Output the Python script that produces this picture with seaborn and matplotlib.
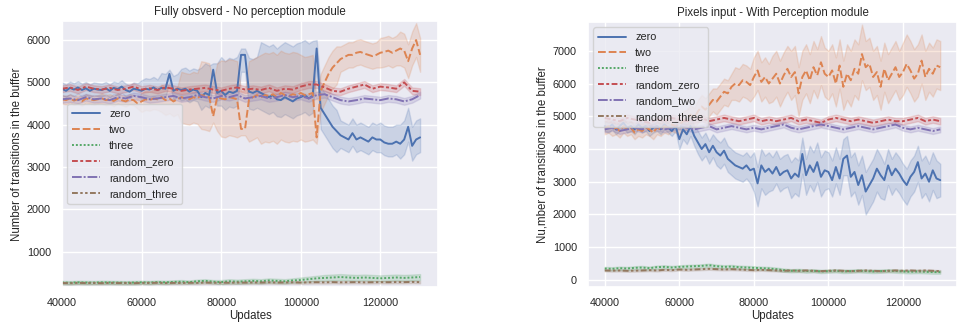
import numpy as np
import pandas as pd
import seaborn as sns
import matplotlib
matplotlib.use("Agg")
import matplotlib.pyplot as plt

series_names = ["zero", "two", "three", "random_zero", "random_two", "random_three"]

x_fine = list(range(40000, 130001, 1000))
x_coarse = list(range(40000, 130001, 2000))

# ---------------- Left panel: Fully observed ----------------
left_zero = [4850, 4800, 4870, 4830, 4880, 4820, 4860, 4800, 4850, 4830,
             4820, 4860, 4800, 4870, 4840, 4900, 4820, 4780, 4850, 4830,
             4800, 4850, 4830, 4880, 4820, 4870, 4850, 5200, 4800, 4850,
             4820, 4850, 4780, 4830, 4800, 4650, 4750, 4700, 5300, 4750,
             4800, 4700, 4780, 4750, 4800, 5650, 5650, 4780, 4750, 4800,
             4750, 4700, 4650, 4700, 4600, 4580, 4650, 4600, 4550, 4620,
             4650, 4700, 4620, 4680, 5800, 4400, 4250, 4100, 3950, 3850,
             3750, 3700, 3650, 3800, 3650, 3700, 3650, 3600, 3700, 3650,
             3650, 3580, 3550, 3550, 3600, 3550, 3650, 3950, 3500, 3650,
             3700]
left_two = [4600, 4580, 4620, 4570, 4600, 4550, 4620, 4600, 4580, 4600,
            4620, 4580, 4600, 4560, 4620, 4580, 4550, 4600, 4580, 4500,
            4550, 4600, 4580, 4620, 4600, 4650, 4580, 4620, 4550, 4600,
            4650, 4620, 4600, 4650, 4620, 4700, 4680, 4650, 4200, 4650,
            4620, 4600, 4650, 4630, 4600, 3900, 3900, 4600, 4650, 4700,
            4650, 4700, 4680, 4720, 4650, 4750, 4700, 4680, 4720, 4700,
            4750, 4700, 4720, 4750, 3700, 4800, 5000, 5200, 5350, 5450,
            5550, 5600, 5650, 5650, 5700, 5720, 5680, 5650, 5620, 5650,
            5700, 5720, 5750, 5700, 5750, 5800, 5750, 5500, 5800, 6000,
            5650]
left_random_zero = [4850, 4880, 4820, 4900, 4850, 4830, 4870, 4820, 4850, 4900,
                    4830, 4860, 4820, 4880, 4850, 4800, 4830, 4850, 4870, 4830,
                    4800, 4850, 4880, 4830, 4850, 4820, 4870, 4800, 4850, 4830,
                    4900, 4950, 4950, 4880, 4800, 4780, 4850, 4900, 4950, 4850,
                    4900, 4880, 4850, 5000, 4800, 4780]
left_random_two = [4600, 4620, 4580, 4650, 4600, 4620, 4580, 4650, 4620, 4680,
                   4650, 4600, 4620, 4650, 4680, 4620, 4650, 4700, 4650, 4620,
                   4680, 4650, 4700, 4620, 4650, 4680, 4620, 4650, 4700, 4650,
                   4680, 4620, 4700, 4720, 4650, 4580, 4550, 4580, 4620, 4600,
                   4580, 4620, 4600, 4550, 4600, 4700]
left_three = [270, 265, 275, 270, 268, 275, 272, 270, 265, 270,
              275, 270, 280, 275, 285, 290, 280, 300, 310, 290,
              280, 300, 290, 300, 310, 300, 320, 310, 300, 320,
              330, 350, 370, 380, 390, 400, 390, 380, 390, 380,
              370, 380, 390, 380, 390, 400]
left_random_three = [260, 255, 262, 258, 260, 255, 262, 258, 260, 255,
                     262, 260, 265, 258, 262, 260, 265, 262, 270, 265,
                     268, 265, 270, 268, 272, 270, 275, 270, 272, 275,
                     270, 275, 278, 275, 280, 275, 278, 280, 275, 278,
                     280, 278, 282, 280, 285, 280]

# band extent above / below the line, per 5000-update segment
left_up = {
    "zero": [150, 150, 150, 150, 250, 350, 500, 700, 800, 800, 1200, 1300, 1300, 500, 350, 350, 400, 450, 450],
    "two": [100, 100, 120, 120, 200, 300, 600, 800, 900, 900, 1000, 1000, 900, 400, 300, 300, 350, 400, 400],
    "three": [40, 40, 40, 40, 40, 40, 40, 40, 50, 50, 50, 50, 60, 70, 70, 70, 70, 70, 70],
    "random_zero": [80] * 19,
    "random_two": [80] * 19,
    "random_three": [30] * 19,
}
left_down = {
    "zero": [150, 150, 150, 150, 200, 200, 250, 300, 350, 400, 400, 400, 400, 500, 300, 300, 300, 350, 350],
    "two": [100, 100, 120, 120, 250, 350, 600, 800, 900, 1000, 1100, 1100, 1100, 500, 300, 300, 350, 400, 400],
    "three": [40, 40, 40, 40, 40, 40, 40, 40, 50, 50, 50, 50, 60, 70, 70, 70, 70, 70, 70],
    "random_zero": [80] * 19,
    "random_two": [80] * 19,
    "random_three": [30] * 19,
}
# band extent at the spike points, read separately
left_up_at = {"zero": {67000: 100, 78000: 150, 85000: 150, 86000: 150, 104000: 200}}
left_down_at = {"two": {78000: 150, 85000: 150, 86000: 150, 104000: 150}}

# ---------------- Right panel: Pixels input ----------------
right_zero = [4700, 4650, 4750, 4600, 4700, 4800, 4650, 4700, 4600, 4750,
              4650, 4700, 4550, 4650, 4700, 4600, 4750, 4650, 4550, 4700,
              4300, 4600, 4450, 4700, 4400, 4200, 4000, 4150, 3900, 4100,
              3900, 3800, 3950, 3700, 3600, 3500, 3450, 3400, 3500, 3350,
              3400, 2950, 3500, 3300, 3400, 3250, 3450, 3200, 3300, 3350,
              3100, 3250, 3150, 3850, 3200, 3500, 3300, 3600, 3150, 3350,
              3300, 3050, 3450, 3100, 3700, 3800, 3150, 3300, 2900, 3200,
              2700, 2900, 3100, 3400, 3200, 3050, 3500, 3200, 3400, 3250,
              3050, 2900, 3150, 3300, 3600, 3100, 3250, 3000, 3350, 3100,
              3050]
right_two = [4650, 4700, 4600, 4650, 4550, 4700, 4600, 4650, 4500, 4600,
             4550, 4650, 4600, 4500, 4650, 4600, 4700, 4650, 4750, 4700,
             4750, 4850, 4900, 5050, 4950, 5150, 5300, 5200, 5350, 5500,
             5450, 5600, 5750, 5700, 5900, 6000, 5950, 6100, 6050, 5950,
             6200, 6400, 6050, 6200, 6000, 6150, 6300, 6000, 6250, 6450,
             6200, 6350, 5700, 6200, 6400, 6100, 6500, 6250, 6650, 6300,
             6200, 6400, 6000, 6550, 5900, 6300, 6100, 6450, 6300, 6900,
             6500, 6600, 6200, 6350, 5900, 6450, 6100, 6300, 6500, 6200,
             6350, 6600, 6400, 6150, 6300, 6700, 6200, 6450, 6300, 6550,
             6500]
right_random_zero = [4950, 4900, 4850, 4950, 4900, 4850, 4800, 4900, 4850, 4950,
                     4900, 4850, 4900, 4950, 4850, 4900, 4950, 4900, 4850, 4900,
                     4950, 4850, 4900, 4850, 4900, 4950, 4850, 4900, 4850, 4800,
                     4900, 4950, 4900, 4850, 4900, 4850, 4800, 4850, 4900, 4850,
                     4850, 4900, 4950, 4850, 4900, 4850]
right_random_two = [4600, 4650, 4550, 4600, 4650, 4600, 4700, 4650, 4600, 4650,
                    4700, 4650, 4600, 4650, 4700, 4600, 4650, 4700, 4650, 4600,
                    4650, 4600, 4650, 4700, 4750, 4650, 4600, 4650, 4700, 4750,
                    4700, 4650, 4600, 4650, 4700, 4650, 4600, 4650, 4700, 4750,
                    4650, 4600, 4650, 4600, 4550, 4600]
right_three = [350, 340, 360, 350, 370, 380, 360, 390, 400, 380,
               400, 410, 420, 430, 450, 420, 400, 410, 390, 380,
               370, 360, 350, 330, 300, 280, 290, 270, 280, 260,
               270, 280, 260, 270, 280, 270, 260, 270, 280, 270,
               260, 250, 260, 250, 240, 240]
right_random_three = [290, 285, 290, 280, 285, 290, 300, 290, 310, 300,
                      320, 310, 320, 330, 340, 330, 320, 330, 320, 310,
                      300, 310, 300, 290, 280, 290, 280, 290, 280, 270,
                      280, 290, 280, 270, 280, 290, 280, 270, 280, 290,
                      280, 290, 280, 290, 280, 270]

right_up = {
    "zero": [150, 150, 150, 150, 300, 350, 400, 400, 500, 500, 500, 600, 600, 600, 600, 500, 500, 550, 500],
    "two": [200, 200, 200, 200, 300, 350, 400, 500, 600, 700, 800, 800, 800, 900, 800, 800, 900, 800, 800],
    "three": [50] * 19,
    "random_zero": [100] * 19,
    "random_two": [90] * 19,
    "random_three": [30] * 19,
}
right_down = {
    "zero": [150, 150, 150, 150, 300, 350, 400, 400, 700, 500, 600, 600, 500, 600, 700, 600, 600, 600, 500],
    "two": [200, 200, 200, 200, 300, 350, 400, 500, 600, 700, 700, 700, 700, 800, 700, 700, 700, 700, 700],
    "three": [50] * 19,
    "random_zero": [100] * 19,
    "random_two": [90] * 19,
    "random_three": [30] * 19,
}


def build(values, ups, downs, up_at=None, down_at=None):
    up_at = up_at or {}
    down_at = down_at or {}
    rows = []
    for name in series_names:
        ys = values[name]
        xs = x_fine if len(ys) == len(x_fine) else x_coarse
        for x, y in zip(xs, ys):
            s = (x - 40000) // 5000
            u = up_at.get(name, {}).get(x, ups[name][s])
            d = down_at.get(name, {}).get(x, downs[name][s])
            for v in (y - d, y, y + u):
                rows.append({"Updates": x, "value": v, "series": name})
    return pd.DataFrame(rows)


left_df = build({"zero": left_zero, "two": left_two, "three": left_three,
                 "random_zero": left_random_zero, "random_two": left_random_two,
                 "random_three": left_random_three}, left_up, left_down,
                left_up_at, left_down_at)
right_df = build({"zero": right_zero, "two": right_two, "three": right_three,
                  "random_zero": right_random_zero, "random_two": right_random_two,
                  "random_three": right_random_three}, right_up, right_down)

sns.set_theme(style="darkgrid")
plt.rcParams["font.family"] = ["Liberation Sans", "DejaVu Sans"]
fs = 7.8

fig = plt.figure(figsize=(9.59, 3.24), dpi=100)
ax1 = fig.add_axes([62 / 959, 37 / 324, 376 / 959, 266 / 324])
ax2 = fig.add_axes([588 / 959, 37 / 324, 369 / 959, 265 / 324])

for ax, df, title, ylabel, loc in [
    (ax1, left_df, "Fully obsverd - No perception module", "Number of transitions in the buffer", "center left"),
    (ax2, right_df, "Pixels input - With Perception module", "Nu,mber of transitions in the buffer", "upper left"),
]:
    sns.lineplot(data=df, x="Updates", y="value", hue="series", style="series",
                 hue_order=series_names, style_order=series_names,
                 estimator="median", errorbar=("pi", 100), linewidth=1.4, ax=ax)
    ax.set_title(title, fontsize=fs + 0.5, pad=4)
    ax.set_xlabel("Updates", fontsize=fs + 0.5, labelpad=1)
    ax.set_ylabel(ylabel, fontsize=fs + 0.5, labelpad=3)
    ax.tick_params(labelsize=fs, pad=2)
    ax.set_xticks([40000, 60000, 80000, 100000, 120000])
    h, l = ax.get_legend_handles_labels()
    ax.legend(h, l, loc=loc, fontsize=fs, handlelength=2.6, labelspacing=0.55,
              borderpad=0.45)

ax1.set_xlim(40000, 134500)
ax1.set_ylim(165, 6450)
ax1.set_yticks([1000, 2000, 3000, 4000, 5000, 6000])
ax2.set_xlim(35500, 134500)
ax2.set_ylim(-215, 7880)
ax2.set_yticks([0, 1000, 2000, 3000, 4000, 5000, 6000, 7000])

fig.savefig("out.png", dpi=100)
